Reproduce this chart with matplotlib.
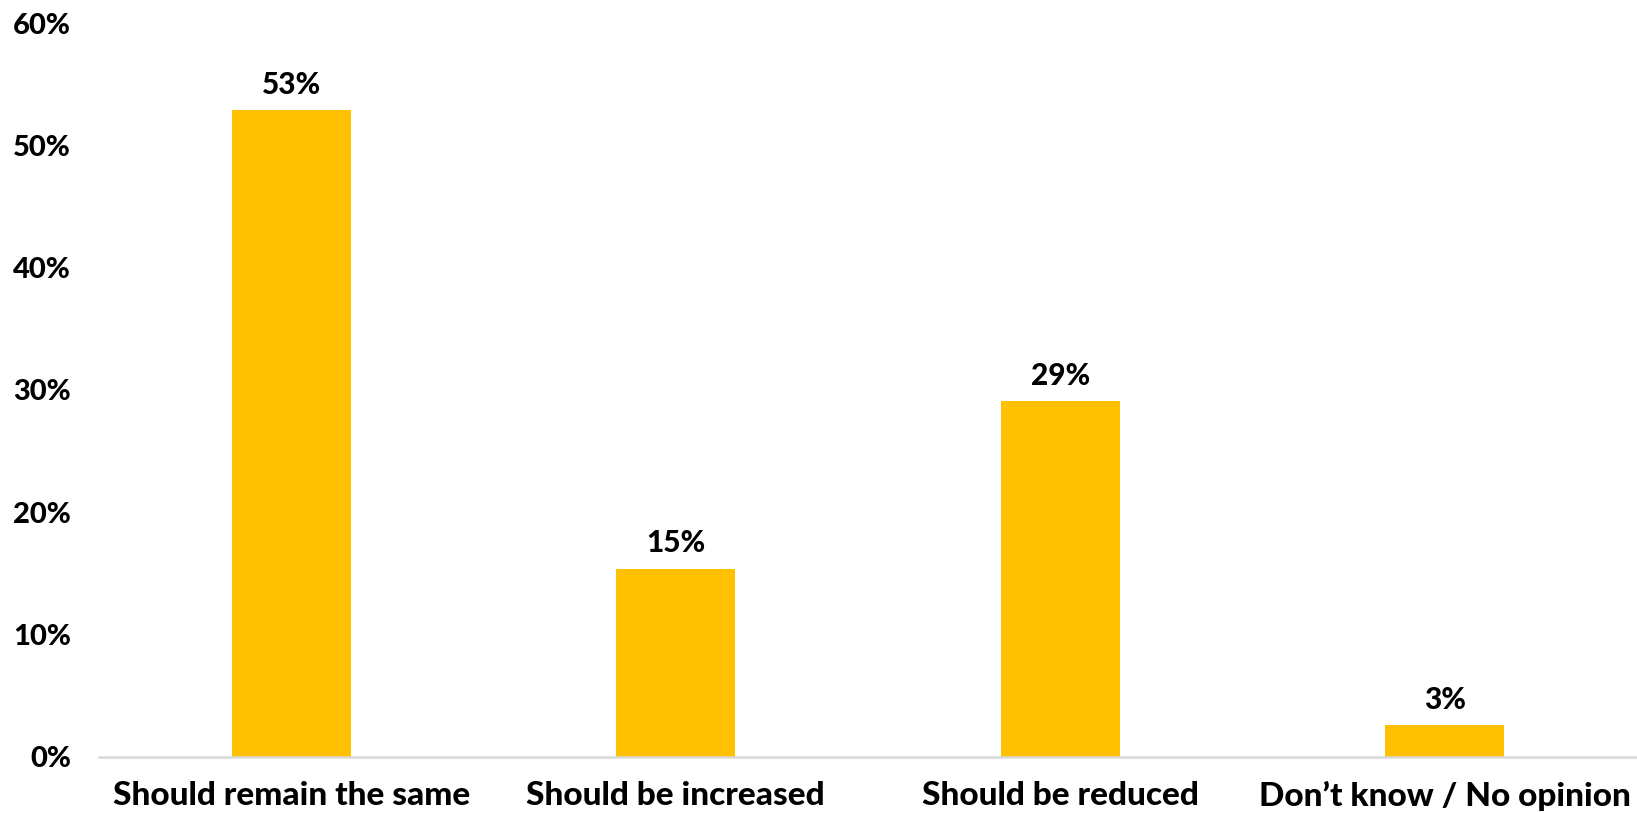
import matplotlib
matplotlib.use("Agg")
import matplotlib.pyplot as plt
from matplotlib.ticker import FuncFormatter

categories = ["Should remain the same", "Should be increased", "Should be reduced", "Don\u2019t know / No opinion"]
values = [52.9, 15.4, 29.1, 2.6]
labels = ["53%", "15%", "29%", "3%"]
yticks = [0, 10, 20, 30, 40, 50, 60]

plt.rcParams['font.family'] = ['Lato', 'DejaVu Sans']
WEIGHT = "black"

fig = plt.figure(figsize=(16.37, 8.13), dpi=100)
ax = fig.add_axes([0.0605, 0.069, 0.9395, 0.9027])

x = list(range(len(categories)))
bars = ax.bar(x, values, width=0.31, color="#FFC000")

# value labels above bars
for b, lab in zip(bars, labels):
    ax.annotate(lab, (b.get_x() + b.get_width() / 2, b.get_height()),
                xytext=(0, 8), textcoords="offset points",
                ha="center", va="bottom", fontsize=21.5, fontweight=WEIGHT)

ax.set_xlim(-0.5, len(categories) - 0.5)
ax.set_ylim(0, 60)
ax.set_yticks(yticks)
ax.yaxis.set_major_formatter(FuncFormatter(lambda v, p: f"{v:.0f}%"))
ax.set_xticks(x)
ax.set_xticklabels(categories)

for s in ["top", "right", "left"]:
    ax.spines[s].set_visible(False)
ax.spines["bottom"].set_color("#D9D9D9")
ax.spines["bottom"].set_linewidth(1.8)

ax.tick_params(axis="both", length=0)
ax.tick_params(axis="y", pad=20, labelsize=21)
ax.tick_params(axis="x", pad=17.5, labelsize=24)
for t in ax.get_xticklabels() + ax.get_yticklabels():
    t.set_fontweight(WEIGHT)

fig.savefig("out.png", dpi=100)
